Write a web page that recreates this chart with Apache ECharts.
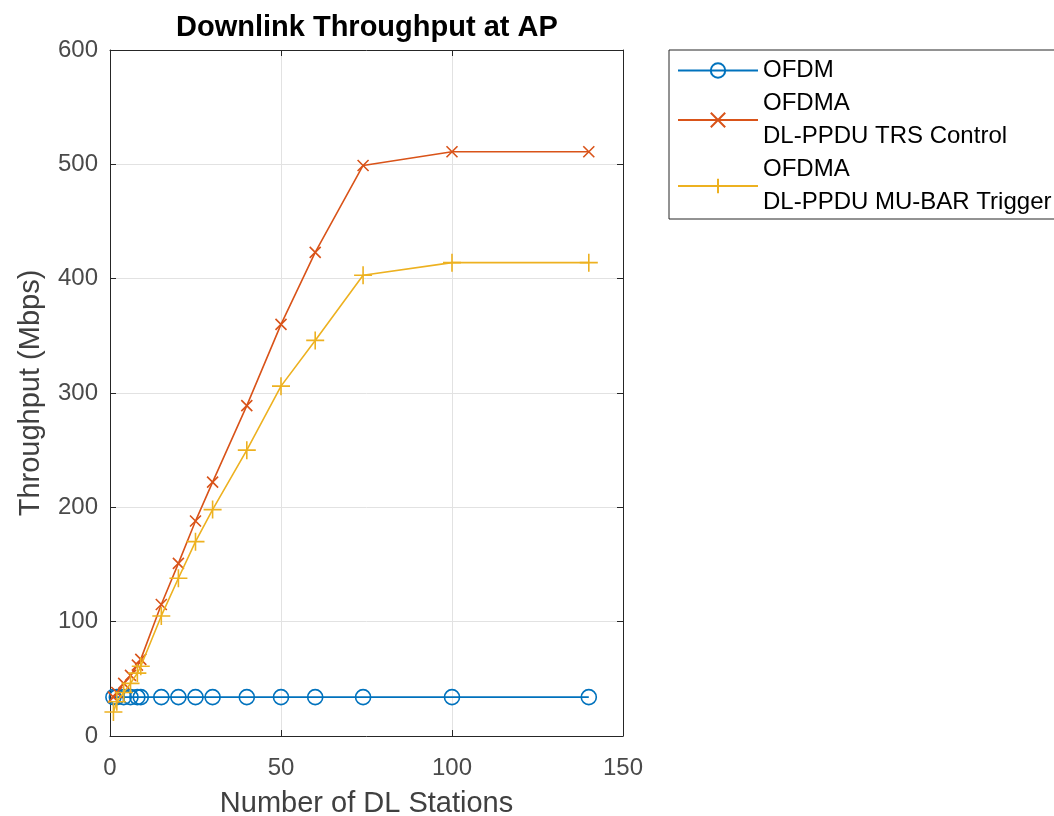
<!DOCTYPE html>
<html>
<head>
<meta charset="utf-8">
<script src="https://cdn.jsdelivr.net/npm/echarts@6/dist/echarts.min.js"></script>
<style>
html,body{margin:0;padding:0;background:#fff;}
#chart{width:1054px;height:816px;}
</style>
</head>
<body>
<div id="chart"></div>
<script>
const stations = [1, 2, 4, 6, 8, 9, 15, 20, 25, 30, 40, 50, 60, 74, 100, 140];
const ofdm = [34, 34, 34, 34, 34, 34, 34, 34, 34, 34, 34, 34, 34, 34, 34, 34];
const ofdmaTrs = [34, 38, 46, 53, 62, 67, 115, 151, 188, 222, 289, 360, 423, 499, 511, 511];
const ofdmaMuBar = [21, 30, 38, 46, 55, 61, 105, 138, 170, 198, 250, 306, 346, 403, 414, 414];
const seriesNames = ['OFDM', 'OFDMA\nDL-PPDU TRS Control', 'OFDMA\nDL-PPDU MU-BAR Trigger'];
const xTicks = [0, 50, 100, 150];
const yTicks = [0, 100, 200, 300, 400, 500, 600];

const FONT = '"Liberation Sans", Arial, Helvetica, sans-serif';
const BLUE = '#0072BD', ORANGE = '#D95319', YELLOW = '#EDB120';
const AX = '#262626';

function pairs(xs, ys) { return xs.map((x, i) => [x, ys[i]]); }

const chart = echarts.init(document.getElementById('chart'), null, {renderer: 'canvas'});
const axisCommon = {
  axisLine: {show: true, onZero: false, lineStyle: {color: AX, width: 1}},
  axisTick: {show: true, inside: true, length: 6, lineStyle: {color: AX, width: 1}},
};
chart.setOption({
  animation: false,
  backgroundColor: '#fff',
  title: {
    text: 'Downlink Throughput at AP',
    left: 171, top: 8,
    textStyle: {fontFamily: FONT, fontWeight: 'bold', fontSize: 29, color: '#000'}
  },
  grid: {left: 110, right: 431, top: 50, bottom: 80, containLabel: false, outerBoundsMode: 'none'},
  legend: {
    orient: 'vertical', left: 669, top: 50,
    data: seriesNames,
    itemWidth: 80, itemHeight: 18, itemGap: 0,
    padding: [4, 10, 0, 8],
    borderColor: AX, borderWidth: 1,
    textStyle: {fontFamily: FONT, fontSize: 24, color: '#000', lineHeight: 33}
  },
  xAxis: [
    Object.assign({
      type: 'value', min: xTicks[0], max: xTicks[xTicks.length - 1], interval: 50,
      name: 'Number of DL Stations', nameLocation: 'middle', nameGap: 53,
      nameTextStyle: {fontFamily: FONT, fontSize: 29, color: '#404040'},
      axisLabel: {fontFamily: FONT, fontSize: 24, color: '#4a4a4a', margin: 20},
      splitLine: {show: true, lineStyle: {color: '#e2e2e2', width: 1}}
    }, axisCommon),
    Object.assign({
      type: 'value', position: 'top', min: 0, max: 150, interval: 50,
      axisLabel: {show: false}, splitLine: {show: false}
    }, axisCommon)
  ],
  yAxis: [
    Object.assign({
      type: 'value', min: yTicks[0], max: yTicks[yTicks.length - 1], interval: 100,
      name: 'Throughput (Mbps)', nameLocation: 'middle', nameGap: 65, nameRotate: 90,
      nameTextStyle: {fontFamily: FONT, fontSize: 29, color: '#404040'},
      axisLabel: {fontFamily: FONT, fontSize: 24, color: '#4a4a4a', margin: 12},
      splitLine: {show: true, lineStyle: {color: '#e2e2e2', width: 1}}
    }, axisCommon),
    Object.assign({
      type: 'value', position: 'right', min: 0, max: 600, interval: 100,
      axisLabel: {show: false}, splitLine: {show: false}
    }, axisCommon)
  ],
  series: [
    {
      name: seriesNames[0], type: 'line', data: pairs(stations, ofdm),
      color: BLUE,
      symbol: 'circle', symbolSize: 15,
      lineStyle: {color: BLUE, width: 1.6},
      itemStyle: {color: 'rgba(255,255,255,0)', borderColor: BLUE, borderWidth: 1.6},
      emphasis: {disabled: true}, z: 3
    },
    {
      name: seriesNames[1], type: 'line', data: pairs(stations, ofdmaTrs),
      color: ORANGE,
      symbol: 'path://M0,0L10,10M10,0L0,10', symbolSize: 11,
      lineStyle: {color: ORANGE, width: 1.6},
      itemStyle: {color: 'rgba(255,255,255,0)', borderColor: ORANGE, borderWidth: 1.6},
      emphasis: {disabled: true}, z: 4
    },
    {
      name: seriesNames[2], type: 'line', data: pairs(stations, ofdmaMuBar),
      color: YELLOW,
      symbol: 'path://M5,0L5,10M0,5L10,5', symbolSize: 18,
      lineStyle: {color: YELLOW, width: 1.6},
      itemStyle: {color: 'rgba(255,255,255,0)', borderColor: YELLOW, borderWidth: 1.6},
      emphasis: {disabled: true}, z: 5
    }
  ]
});
</script>
</body>
</html>
